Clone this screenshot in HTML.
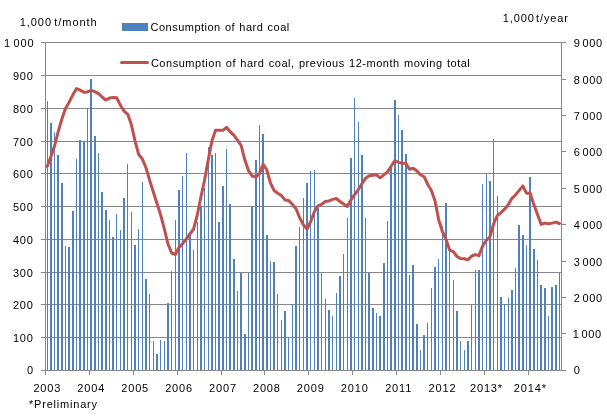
<!DOCTYPE html>
<html><head><meta charset="utf-8"><style>
html,body{margin:0;padding:0;background:#fff;}
body{width:607px;height:418px;overflow:hidden;}
svg{display:block;}
text{font-family:"Liberation Sans",Arial,sans-serif;font-size:11px;fill:#000;}
</style></head><body>
<svg width="607" height="418" viewBox="0 0 607 418">
<rect width="607" height="418" fill="#fff"/>
<g stroke="#888888" stroke-width="1" shape-rendering="crispEdges"><line x1="41" y1="42.5" x2="562" y2="42.5"/><line x1="41" y1="75.5" x2="562" y2="75.5"/><line x1="41" y1="108.5" x2="562" y2="108.5"/><line x1="41" y1="141.5" x2="562" y2="141.5"/><line x1="41" y1="173.5" x2="562" y2="173.5"/><line x1="41" y1="206.5" x2="562" y2="206.5"/><line x1="41" y1="239.5" x2="562" y2="239.5"/><line x1="41" y1="272.5" x2="562" y2="272.5"/><line x1="41" y1="304.5" x2="562" y2="304.5"/><line x1="41" y1="337.5" x2="562" y2="337.5"/><line x1="562" y1="370.5" x2="566" y2="370.5"/><line x1="562" y1="333.5" x2="566" y2="333.5"/><line x1="562" y1="297.5" x2="566" y2="297.5"/><line x1="562" y1="261.5" x2="566" y2="261.5"/><line x1="562" y1="224.5" x2="566" y2="224.5"/><line x1="562" y1="188.5" x2="566" y2="188.5"/><line x1="562" y1="151.5" x2="566" y2="151.5"/><line x1="562" y1="115.5" x2="566" y2="115.5"/><line x1="562" y1="79.5" x2="566" y2="79.5"/><line x1="562" y1="42.5" x2="566" y2="42.5"/><line x1="45.5" y1="371" x2="45.5" y2="375"/><line x1="89.5" y1="371" x2="89.5" y2="375"/><line x1="133.5" y1="371" x2="133.5" y2="375"/><line x1="177.5" y1="371" x2="177.5" y2="375"/><line x1="221.5" y1="371" x2="221.5" y2="375"/><line x1="264.5" y1="371" x2="264.5" y2="375"/><line x1="308.5" y1="371" x2="308.5" y2="375"/><line x1="352.5" y1="371" x2="352.5" y2="375"/><line x1="396.5" y1="371" x2="396.5" y2="375"/><line x1="440.5" y1="371" x2="440.5" y2="375"/><line x1="484.5" y1="371" x2="484.5" y2="375"/><line x1="528.5" y1="371" x2="528.5" y2="375"/>
<line x1="45.5" y1="42" x2="45.5" y2="371"/><line x1="561.5" y1="42" x2="561.5" y2="371"/></g>
<g fill="#4F81BD" shape-rendering="crispEdges"><rect x="47" y="101" width="1" height="269"/><rect x="50" y="123" width="2" height="247"/><rect x="54" y="132" width="1" height="238"/><rect x="57" y="155" width="2" height="215"/><rect x="61" y="183" width="2" height="187"/><rect x="65" y="246" width="1" height="124"/><rect x="68" y="247" width="2" height="123"/><rect x="72" y="211" width="2" height="159"/><rect x="76" y="159" width="1" height="211"/><rect x="79" y="140" width="2" height="230"/><rect x="83" y="141" width="2" height="229"/><rect x="87" y="108" width="1" height="262"/><rect x="90" y="79" width="2" height="291"/><rect x="94" y="136" width="2" height="234"/><rect x="98" y="153" width="1" height="217"/><rect x="101" y="192" width="2" height="178"/><rect x="105" y="210" width="2" height="160"/><rect x="109" y="220" width="1" height="150"/><rect x="112" y="237" width="2" height="133"/><rect x="116" y="214" width="1" height="156"/><rect x="120" y="230" width="1" height="140"/><rect x="123" y="198" width="2" height="172"/><rect x="127" y="164" width="1" height="206"/><rect x="131" y="212" width="1" height="158"/><rect x="134" y="245" width="2" height="125"/><rect x="138" y="229" width="1" height="141"/><rect x="142" y="182" width="1" height="188"/><rect x="145" y="279" width="2" height="91"/><rect x="149" y="294" width="1" height="76"/><rect x="153" y="341" width="1" height="29"/><rect x="156" y="354" width="2" height="16"/><rect x="160" y="340" width="1" height="30"/><rect x="164" y="341" width="1" height="29"/><rect x="167" y="303" width="2" height="67"/><rect x="171" y="271" width="1" height="99"/><rect x="175" y="220" width="1" height="150"/><rect x="178" y="190" width="2" height="180"/><rect x="182" y="176" width="1" height="194"/><rect x="186" y="153" width="1" height="217"/><rect x="189" y="235" width="2" height="135"/><rect x="193" y="250" width="1" height="120"/><rect x="197" y="222" width="1" height="148"/><rect x="200" y="206" width="2" height="164"/><rect x="204" y="188" width="1" height="182"/><rect x="208" y="147" width="1" height="223"/><rect x="211" y="155" width="2" height="215"/><rect x="215" y="153" width="1" height="217"/><rect x="218" y="222" width="2" height="148"/><rect x="222" y="186" width="2" height="184"/><rect x="226" y="149" width="1" height="221"/><rect x="229" y="204" width="2" height="166"/><rect x="233" y="259" width="2" height="111"/><rect x="237" y="291" width="1" height="79"/><rect x="240" y="273" width="2" height="97"/><rect x="244" y="334" width="2" height="36"/><rect x="248" y="273" width="1" height="97"/><rect x="251" y="206" width="2" height="164"/><rect x="255" y="160" width="2" height="210"/><rect x="259" y="125" width="1" height="245"/><rect x="262" y="134" width="2" height="236"/><rect x="266" y="235" width="2" height="135"/><rect x="270" y="261" width="1" height="109"/><rect x="273" y="262" width="2" height="108"/><rect x="277" y="294" width="1" height="76"/><rect x="281" y="320" width="1" height="50"/><rect x="284" y="311" width="2" height="59"/><rect x="288" y="338" width="1" height="32"/><rect x="292" y="304" width="1" height="66"/><rect x="295" y="246" width="2" height="124"/><rect x="299" y="227" width="1" height="143"/><rect x="303" y="198" width="1" height="172"/><rect x="306" y="183" width="2" height="187"/><rect x="310" y="171" width="1" height="199"/><rect x="314" y="170" width="1" height="200"/><rect x="317" y="208" width="2" height="162"/><rect x="321" y="273" width="1" height="97"/><rect x="325" y="299" width="1" height="71"/><rect x="328" y="310" width="2" height="60"/><rect x="332" y="316" width="1" height="54"/><rect x="336" y="293" width="1" height="77"/><rect x="339" y="276" width="2" height="94"/><rect x="343" y="254" width="1" height="116"/><rect x="347" y="218" width="1" height="152"/><rect x="350" y="158" width="2" height="212"/><rect x="354" y="98" width="1" height="272"/><rect x="358" y="122" width="1" height="248"/><rect x="361" y="155" width="2" height="215"/><rect x="365" y="218" width="1" height="152"/><rect x="368" y="273" width="2" height="97"/><rect x="372" y="308" width="2" height="62"/><rect x="376" y="313" width="1" height="57"/><rect x="379" y="316" width="2" height="54"/><rect x="383" y="263" width="2" height="107"/><rect x="387" y="221" width="1" height="149"/><rect x="390" y="167" width="2" height="203"/><rect x="394" y="100" width="2" height="270"/><rect x="398" y="115" width="1" height="255"/><rect x="401" y="130" width="2" height="240"/><rect x="405" y="154" width="2" height="216"/><rect x="409" y="275" width="1" height="95"/><rect x="412" y="265" width="2" height="105"/><rect x="416" y="324" width="2" height="46"/><rect x="420" y="350" width="1" height="20"/><rect x="423" y="335" width="2" height="35"/><rect x="427" y="323" width="1" height="47"/><rect x="431" y="288" width="1" height="82"/><rect x="434" y="267" width="2" height="103"/><rect x="438" y="259" width="1" height="111"/><rect x="442" y="226" width="1" height="144"/><rect x="445" y="203" width="2" height="167"/><rect x="449" y="249" width="1" height="121"/><rect x="453" y="280" width="1" height="90"/><rect x="456" y="311" width="2" height="59"/><rect x="460" y="341" width="1" height="29"/><rect x="464" y="350" width="1" height="20"/><rect x="467" y="341" width="2" height="29"/><rect x="471" y="304" width="1" height="66"/><rect x="475" y="270" width="1" height="100"/><rect x="478" y="270" width="2" height="100"/><rect x="482" y="184" width="1" height="186"/><rect x="486" y="173" width="1" height="197"/><rect x="489" y="181" width="2" height="189"/><rect x="493" y="139" width="1" height="231"/><rect x="497" y="196" width="1" height="174"/><rect x="500" y="297" width="2" height="73"/><rect x="504" y="304" width="1" height="66"/><rect x="508" y="298" width="1" height="72"/><rect x="511" y="290" width="2" height="80"/><rect x="515" y="268" width="1" height="102"/><rect x="518" y="225" width="2" height="145"/><rect x="522" y="235" width="2" height="135"/><rect x="526" y="245" width="1" height="125"/><rect x="529" y="177" width="2" height="193"/><rect x="533" y="249" width="2" height="121"/><rect x="537" y="260" width="1" height="110"/><rect x="540" y="285" width="2" height="85"/><rect x="544" y="288" width="2" height="82"/><rect x="548" y="316" width="1" height="54"/><rect x="551" y="287" width="2" height="83"/><rect x="555" y="285" width="2" height="85"/><rect x="559" y="273" width="1" height="97"/></g>
<g stroke="#888888" stroke-width="1" shape-rendering="crispEdges"><line x1="41" y1="370.5" x2="566" y2="370.5"/></g>
<polyline points="47.25,166.5 50.91,156.5 54.57,146.0 58.23,131.5 61.89,119.0 65.54,108.2 69.20,102.2 72.86,94.8 76.52,88.6 80.18,90.1 83.84,92.2 87.50,91.9 91.16,90.4 94.81,91.6 98.47,93.6 102.13,97.0 105.79,100.0 109.45,98.1 113.11,97.5 116.77,97.8 120.42,105.2 124.08,111.1 127.74,114.3 131.40,124.8 135.06,141.1 138.72,154.5 142.38,159.0 146.04,168.0 149.69,180.4 153.35,192.0 157.01,203.5 160.67,215.0 164.33,228.8 167.99,244.0 171.65,253.0 175.31,254.5 178.96,247.5 182.62,243.7 186.28,239.0 189.94,234.0 193.60,229.0 197.26,215.0 200.92,197.0 204.57,180.0 208.23,160.0 211.89,141.0 215.55,130.3 219.21,130.3 222.87,130.3 226.53,127.3 230.19,131.7 233.84,135.2 237.50,140.1 241.16,145.5 244.82,159.8 248.48,170.6 252.14,176.1 255.80,177.1 259.46,173.6 263.11,164.2 266.77,169.8 270.43,183.0 274.09,190.5 277.75,193.2 281.41,195.6 285.07,200.1 288.72,200.6 292.38,204.2 296.04,208.8 299.70,217.7 303.36,224.7 307.02,229.1 310.68,221.7 314.34,211.8 317.99,205.9 321.65,204.4 325.31,201.4 328.97,200.9 332.63,199.4 336.29,198.5 339.95,201.5 343.61,204.0 347.26,206.5 350.92,200.0 354.58,194.6 358.24,189.7 361.90,183.7 365.56,178.3 369.22,175.8 372.88,175.3 376.53,174.8 380.19,177.8 383.85,174.8 387.51,171.9 391.17,166.3 394.83,160.5 398.49,162.4 402.14,163.3 405.80,163.3 409.46,169.3 413.12,168.3 416.78,170.8 420.44,174.7 424.10,176.7 427.76,184.5 431.41,190.5 435.07,201.0 438.73,220.0 442.39,231.5 446.05,239.5 449.71,250.2 453.37,251.7 457.03,256.5 460.68,258.6 464.34,258.8 468.00,259.8 471.66,256.1 475.32,254.6 478.98,255.6 482.64,246.0 486.29,240.3 489.95,236.8 493.61,224.0 497.27,215.6 500.93,212.6 504.59,209.2 508.25,204.7 511.91,198.3 515.56,194.8 519.22,190.4 522.88,185.9 526.54,193.3 530.20,193.3 533.86,204.6 537.52,214.5 541.18,224.4 544.83,223.1 548.49,223.8 552.15,223.1 555.81,222.1 559.47,223.5" fill="none" stroke="#C0504D" stroke-width="3" stroke-linejoin="round" stroke-linecap="round"/>
<rect x="122" y="23" width="26" height="8" fill="#4F81BD"/>
<line x1="121.5" y1="62.5" x2="147.5" y2="62.5" stroke="#C0504D" stroke-width="3" stroke-linecap="round"/>
<text x="150.50" y="31" style="letter-spacing:0.491px;word-spacing:0.7px;">Consumption of hard coal</text>
<text x="150.90" y="67" style="letter-spacing:0.529px;word-spacing:0.7px;">Consumption of hard coal, previous 12-month moving total</text>
<text x="19.70" y="26" style="letter-spacing:0.95px;word-spacing:-1.7px;">1,000 t/month</text>
<text x="502.80" y="22" style="letter-spacing:0.855px;word-spacing:-2.4px;">1,000 t/year</text>
<text x="29.00" y="408" style="letter-spacing:0.791px;">*Preliminary</text>
<text x="4.00" y="47" style="letter-spacing:0.875px;word-spacing:-1.5px;">1 000</text>
<text x="13.00" y="80" style="letter-spacing:0.7px;word-spacing:-1.5px;">900</text>
<text x="13.00" y="113" style="letter-spacing:0.7px;word-spacing:-1.5px;">800</text>
<text x="13.00" y="146" style="letter-spacing:0.7px;word-spacing:-1.5px;">700</text>
<text x="13.00" y="178" style="letter-spacing:0.7px;word-spacing:-1.5px;">600</text>
<text x="13.00" y="211" style="letter-spacing:0.7px;word-spacing:-1.5px;">500</text>
<text x="13.00" y="244" style="letter-spacing:0.7px;word-spacing:-1.5px;">400</text>
<text x="13.00" y="277" style="letter-spacing:0.7px;word-spacing:-1.5px;">300</text>
<text x="13.00" y="309" style="letter-spacing:0.7px;word-spacing:-1.5px;">200</text>
<text x="13.00" y="342" style="letter-spacing:0.7px;word-spacing:-1.5px;">100</text>
<text x="27.00" y="374" style="letter-spacing:0.7px;word-spacing:-1.5px;">0</text>
<text x="573.70" y="47" style="letter-spacing:0.575px;word-spacing:-1.5px;">9 000</text>
<text x="573.70" y="84" style="letter-spacing:0.575px;word-spacing:-1.5px;">8 000</text>
<text x="573.70" y="120" style="letter-spacing:0.575px;word-spacing:-1.5px;">7 000</text>
<text x="573.70" y="156" style="letter-spacing:0.575px;word-spacing:-1.5px;">6 000</text>
<text x="573.70" y="193" style="letter-spacing:0.575px;word-spacing:-1.5px;">5 000</text>
<text x="573.70" y="229" style="letter-spacing:0.575px;word-spacing:-1.5px;">4 000</text>
<text x="573.70" y="266" style="letter-spacing:0.575px;word-spacing:-1.5px;">3 000</text>
<text x="573.70" y="302" style="letter-spacing:0.575px;word-spacing:-1.5px;">2 000</text>
<text x="572.70" y="338" style="letter-spacing:0.575px;word-spacing:-1.5px;">1 000</text>
<text x="573.70" y="374" style="letter-spacing:0.575px;word-spacing:-1.5px;">0</text>
<text x="33.42" y="392" style="letter-spacing:0.85px;">2003</text>
<text x="77.33" y="392" style="letter-spacing:0.85px;">2004</text>
<text x="121.23" y="392" style="letter-spacing:0.85px;">2005</text>
<text x="165.13" y="392" style="letter-spacing:0.85px;">2006</text>
<text x="209.04" y="392" style="letter-spacing:0.85px;">2007</text>
<text x="252.94" y="392" style="letter-spacing:0.85px;">2008</text>
<text x="296.85" y="392" style="letter-spacing:0.85px;">2009</text>
<text x="340.75" y="392" style="letter-spacing:0.85px;">2010</text>
<text x="385.16" y="392" style="letter-spacing:0.85px;">2011</text>
<text x="428.56" y="392" style="letter-spacing:0.85px;">2012</text>
<text x="469.97" y="392" style="letter-spacing:0.85px;">2013*</text>
<text x="513.87" y="392" style="letter-spacing:0.85px;">2014*</text>
</svg>
</body></html>
